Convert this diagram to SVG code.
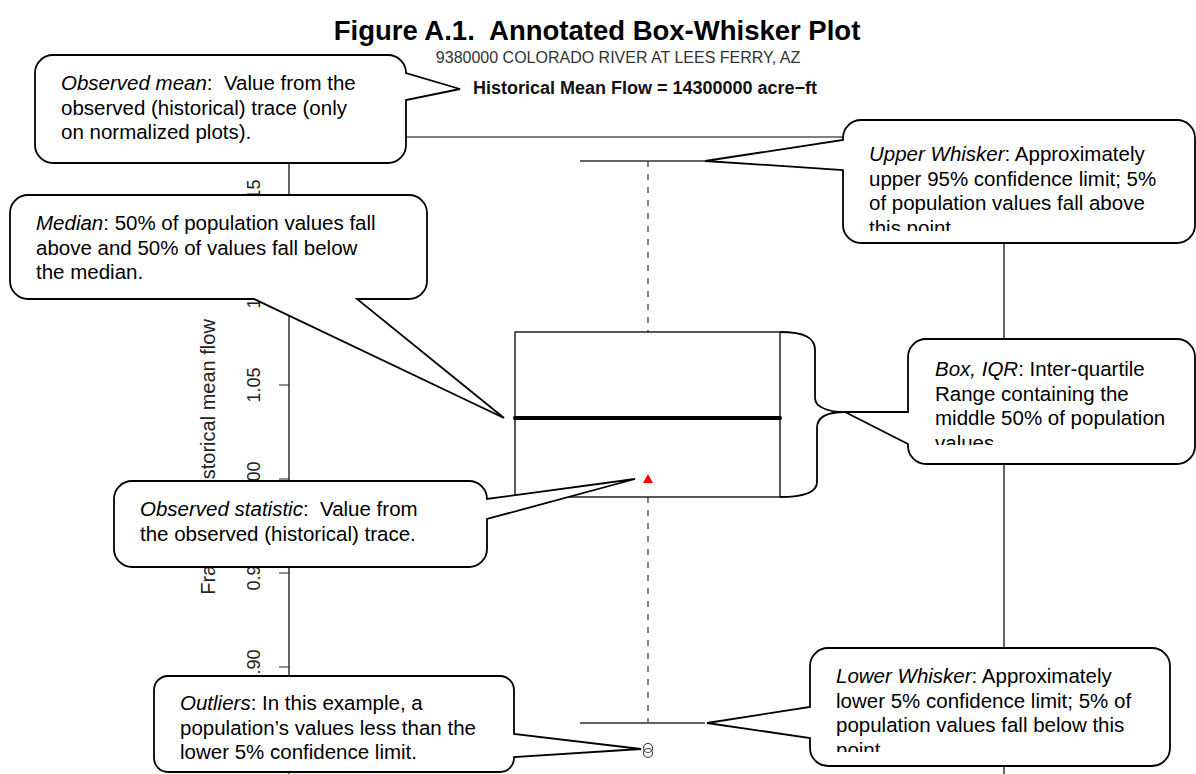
<svg xmlns="http://www.w3.org/2000/svg" width="1196" height="774" viewBox="0 0 1196 774">
  <defs>
    <style>
      text { font-family: "Liberation Sans", Arial, sans-serif; white-space: pre; }
      .title { font-size: 27.5px; font-weight: bold; fill: #000; }
      .sub { font-size: 16px; fill: #333; }
      .main { font-size: 18px; font-weight: bold; fill: #111; }
      .tick { font-size: 18px; fill: #222; }
      .ylab { font-size: 20px; fill: #222; }
      .frame { fill: none; stroke: #000; stroke-width: 1.2; }
      .axis { fill: none; stroke: #222; stroke-width: 1.2; }
      .whisk { fill: none; stroke: #333; stroke-width: 1.3; }
      .dash { fill: none; stroke: #333; stroke-width: 1.2; stroke-dasharray: 6 7; }
      .box { fill: none; stroke: #000; stroke-width: 1.3; }
      .median { fill: none; stroke: #000; stroke-width: 4; stroke-linecap: round; }
      .brace { fill: none; stroke: #000; stroke-width: 1.8; }
      .callout { fill: #fff; stroke: #000; stroke-width: 1.8; stroke-linejoin: miter; }
      .note { font-size: 20.5px; fill: #000; }
      .em { font-style: italic; }
    </style>
    <!-- text boxes of fixed height: overflowing lines are cut off -->
    <clipPath id="clip-upper"><rect x="843" y="120" width="352" height="111"/></clipPath>
    <clipPath id="clip-iqr"><rect x="908" y="339" width="287" height="106"/></clipPath>
    <clipPath id="clip-lower"><rect x="810" y="648" width="360" height="104"/></clipPath>
  </defs>

  <!-- headings -->
  <g id="heading">
    <text class="title" x="597" y="40" text-anchor="middle" xml:space="preserve">Figure A.1.  Annotated Box-Whisker Plot</text>
    <text class="sub" x="618" y="63" text-anchor="middle">9380000 COLORADO RIVER AT LEES FERRY, AZ</text>
    <text class="main" x="645" y="94" text-anchor="middle">Historical Mean Flow = 14300000 acre−ft</text>
  </g>

  <!-- plot frame and y axis -->
  <g id="plot-frame">
    <path class="frame" d="M289,780 V137 H1004 V780"/>
    <path class="axis" d="M279,197 H289 M279,291 H289 M279,385 H289 M279,479 H289 M279,573 H289 M279,667 H289"/>
    <text class="tick" transform="translate(260,197) rotate(-90)" text-anchor="middle">1.15</text>
    <text class="tick" transform="translate(260,291) rotate(-90)" text-anchor="middle">1.10</text>
    <text class="tick" transform="translate(260,385) rotate(-90)" text-anchor="middle">1.05</text>
    <text class="tick" transform="translate(260,479) rotate(-90)" text-anchor="middle">1.00</text>
    <text class="tick" transform="translate(260,573) rotate(-90)" text-anchor="middle">0.95</text>
    <text class="tick" transform="translate(260,667) rotate(-90)" text-anchor="middle">0.90</text>
    <text class="ylab" transform="translate(215,457) rotate(-90)" text-anchor="middle">Fraction of historical mean flow</text>
  </g>

  <!-- box-whisker glyph -->
  <g id="boxplot">
    <path class="whisk" d="M580,161 H705 M580,723 H705"/>
    <path class="dash" d="M648,161 V332 M648,497 V723"/>
    <rect class="box" x="515" y="332" width="265" height="165"/>
    <path class="median" d="M515,418 H780"/>
    <path d="M648,474 L653,483 L643,483 Z" fill="#ff0000"/>
    <circle cx="648" cy="748" r="4.5" fill="none" stroke="#333" stroke-width="1.1"/>
    <circle cx="648" cy="753" r="4.5" fill="none" stroke="#333" stroke-width="1.1"/>
  </g>

  <!-- connectors: brace grouping the inter-quartile box -->
  <g id="connectors">
    <path class="brace" d="M780,332 C805,332 815,338 815,350 V398 C815,408 830,412 845,412 C830,412 817,416 817,428 V482 C817,492 805,497 780,497"/>
  </g>

  <!-- callouts -->
  <g id="callout-observed-mean">
    <path class="callout" d="M53,55 H388 A18,18 0 0 1 406,73 L460,89 L406,100 V145 A18,18 0 0 1 388,163 H53 A18,18 0 0 1 35,145 V73 A18,18 0 0 1 53,55 Z"/>
    <text class="note" x="61" y="90" xml:space="preserve"><tspan class="em">Observed mean</tspan>:  Value from the</text>
    <text class="note" x="61" y="114.5">observed (historical) trace (only</text>
    <text class="note" x="61" y="139">on normalized plots).</text>
  </g>

  <g id="callout-median">
    <path class="callout" d="M28,195 H409 A18,18 0 0 1 427,213 V281 A18,18 0 0 1 409,299 H357 L504,418 L254,299 H28 A18,18 0 0 1 10,281 V213 A18,18 0 0 1 28,195 Z"/>
    <text class="note" x="36" y="230"><tspan class="em">Median</tspan>: 50% of population values fall</text>
    <text class="note" x="36" y="254.5">above and 50% of values fall below</text>
    <text class="note" x="36" y="279">the median.</text>
  </g>

  <g id="callout-upper-whisker">
    <path class="callout" d="M861,120 H1177 A18,18 0 0 1 1195,138 V225 A18,18 0 0 1 1177,243 H861 A18,18 0 0 1 843,225 V170 L705,161 L843,140 V138 A18,18 0 0 1 861,120 Z"/>
    <g clip-path="url(#clip-upper)">
      <text class="note" x="869" y="161"><tspan class="em">Upper Whisker</tspan>: Approximately</text>
      <text class="note" x="869" y="185.5">upper 95% confidence limit; 5%</text>
      <text class="note" x="869" y="210">of population values fall above</text>
      <text class="note" x="869" y="234.5">this point.</text>
    </g>
  </g>

  <g id="callout-box-iqr">
    <path class="callout" d="M926,339 H1177 A18,18 0 0 1 1195,357 V446 A18,18 0 0 1 1177,464 H926 A18,18 0 0 1 908,446 V444 L845,412 L908,412 V357 A18,18 0 0 1 926,339 Z"/>
    <g clip-path="url(#clip-iqr)">
      <text class="note" x="935" y="376"><tspan class="em">Box, IQR</tspan>: Inter-quartile</text>
      <text class="note" x="935" y="400.5">Range containing the</text>
      <text class="note" x="935" y="425">middle 50% of population</text>
      <text class="note" x="935" y="449.5">values.</text>
    </g>
  </g>

  <g id="callout-observed-statistic">
    <path class="callout" d="M132,481 H469 A18,18 0 0 1 487,499 L635,479 L487,519 V549 A18,18 0 0 1 469,567 H132 A18,18 0 0 1 114,549 V499 A18,18 0 0 1 132,481 Z"/>
    <text class="note" x="140" y="516" xml:space="preserve"><tspan class="em">Observed statistic</tspan>:  Value from</text>
    <text class="note" x="140" y="540.5">the observed (historical) trace.</text>
  </g>

  <g id="callout-outliers">
    <path class="callout" d="M168,676 H500 A14,14 0 0 1 514,690 V734 L641,749 L514,757 V758 A14,14 0 0 1 500,772 H168 A14,14 0 0 1 154,758 V690 A14,14 0 0 1 168,676 Z"/>
    <text class="note" x="180" y="710"><tspan class="em">Outliers</tspan>: In this example, a</text>
    <text class="note" x="180" y="734.5">population’s values less than the</text>
    <text class="note" x="180" y="759">lower 5% confidence limit.</text>
  </g>

  <g id="callout-lower-whisker">
    <path class="callout" d="M828,648 H1152 A18,18 0 0 1 1170,666 V748 A18,18 0 0 1 1152,766 H828 A18,18 0 0 1 810,748 V738 L707,723 L810,707 V666 A18,18 0 0 1 828,648 Z"/>
    <g clip-path="url(#clip-lower)">
      <text class="note" x="836" y="683"><tspan class="em">Lower Whisker</tspan>: Approximately</text>
      <text class="note" x="836" y="707.5">lower 5% confidence limit; 5% of</text>
      <text class="note" x="836" y="732">population values fall below this</text>
      <text class="note" x="836" y="756.5">point.</text>
    </g>
  </g>
</svg>
